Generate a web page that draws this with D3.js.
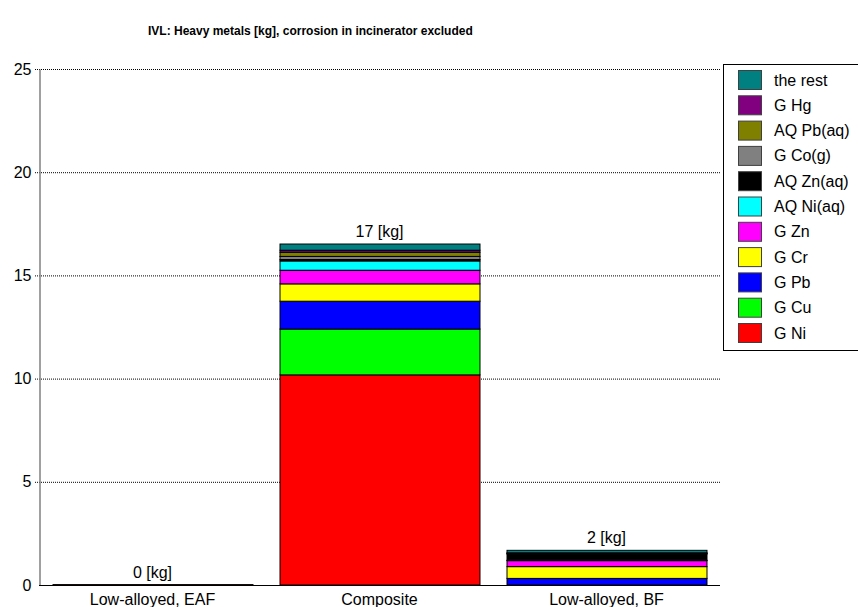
<!DOCTYPE html>
<html><head><meta charset="utf-8">
<script src="https://cdn.jsdelivr.net/npm/d3@7"></script>
<style>
html,body{margin:0;padding:0;background:#fff;}
svg{display:block;font-family:"Liberation Sans",Arial,sans-serif;}
</style></head>
<body>
<svg id="chart" width="858" height="607"></svg>
<script>
const title = "IVL: Heavy metals [kg], corrosion in incinerator excluded";
const categories = ["Low-alloyed, EAF", "Composite", "Low-alloyed, BF"];
const seriesNames = ["G Ni","G Cu","G Pb","G Cr","G Zn","AQ Ni(aq)","AQ Zn(aq)","G Co(g)","AQ Pb(aq)","G Hg","the rest"];
const seriesColors = ["#ff0000","#00ff00","#0000ff","#ffff00","#ff00ff","#00ffff","#000000","#808080","#808000","#800080","#008080"];
// values per series: [EAF, Composite, BF]
const gNi   = [0.02, 10.18, 0.00];
const gCu   = [0.00, 2.22, 0.00];
const gPb   = [0.00, 1.35, 0.32];
const gCr   = [0.00, 0.84, 0.57];
const gZn   = [0.00, 0.66, 0.29];
const aqNi  = [0.00, 0.45, 0.02];
const aqZn  = [0.00, 0.07, 0.30];
const gCo   = [0.00, 0.15, 0.02];
const aqPb  = [0.00, 0.20, 0.02];
const gHg   = [0.00, 0.10, 0.02];
const rest  = [0.00, 0.30, 0.12];
const seriesValues = [gNi,gCu,gPb,gCr,gZn,aqNi,aqZn,gCo,aqPb,gHg,rest];
const yTicks = [0,5,10,15,20,25];

const svg = d3.select("#chart");
const mLeft = 39, mRight = 720, mTop = 69, mBottom = 585;

const rows = categories.map((c,i)=>{
  const r = {cat:c};
  seriesNames.forEach((s,j)=>{ r[s] = seriesValues[j][i]; });
  return r;
});
const stack = d3.stack().keys(seriesNames)(rows);

const x = d3.scaleBand().domain(categories).range([mLeft,mRight]).paddingInner(0.119).paddingOuter(0.0595);
const y = d3.scaleLinear().domain([0,25]).range([mBottom,mTop]);

// title
svg.append("text").attr("x",148).attr("y",35).attr("text-anchor","start")
  .attr("font-weight","bold").attr("font-size",12).text(title);

// gridlines
svg.append("g").selectAll("line").data(yTicks.filter(t=>t>0)).join("line")
  .attr("x1",mLeft-4).attr("x2",mRight).attr("y1",d=>y(d)+0.5).attr("y2",d=>y(d)+0.5)
  .attr("stroke","#000").attr("stroke-width",1).attr("stroke-dasharray","1,1");

// y axis
const yAxis = svg.append("g").attr("transform",`translate(${mLeft+0.5},0)`)
  .call(d3.axisLeft(y).tickValues(yTicks).tickSize(0).tickPadding(8).tickFormat(d3.format("d")));
yAxis.select(".domain").attr("stroke","#808080").attr("stroke-width",1.5);
yAxis.selectAll("text").attr("font-size",16).attr("fill","#000").attr("font-family","Liberation Sans, Arial, sans-serif");

// x axis line
svg.append("line").attr("x1",mLeft).attr("x2",mRight).attr("y1",mBottom+0.5).attr("y2",mBottom+0.5)
  .attr("stroke","#000").attr("stroke-width",1);

// bars
svg.append("g").selectAll("g").data(stack).join("g")
  .attr("fill",(d,i)=>seriesColors[i])
  .selectAll("rect").data(d=>d).join("rect")
  .attr("x",d=>x(d.data.cat)+0.5)
  .attr("width",x.bandwidth())
  .attr("y",d=>y(d[1]))
  .attr("height",d=>Math.max(0,y(d[0])-y(d[1])))
  .attr("stroke","#000").attr("stroke-width",1)
  .filter(d=>d[1]-d[0]<=0).remove();

// x labels
svg.append("g").attr("transform",`translate(0,${mBottom})`)
  .call(d3.axisBottom(x).tickSize(0).tickPadding(9))
  .call(g=>g.select(".domain").remove())
  .selectAll("text").attr("font-size",16).attr("fill","#000").attr("font-family","Liberation Sans, Arial, sans-serif");

// totals
const totals = rows.map(r=>({cat:r.cat,total:d3.sum(seriesNames,s=>r[s])}));
svg.append("g").selectAll("text").data(totals).join("text")
  .attr("x",d=>x(d.cat)+x.bandwidth()/2).attr("y",d=>y(d.total)-7)
  .attr("text-anchor","middle").attr("font-size",16)
  .text(d=>`${Math.round(d.total)} [kg]`);

// legend
const lg = svg.append("g");
lg.append("rect").attr("x",723.5).attr("y",64.5).attr("width",140).attr("height",286)
  .attr("fill","#fff").attr("stroke","#000").attr("stroke-width",1);
const legendOrder = seriesNames.map((s,i)=>i).reverse();
const li = lg.selectAll("g.item").data(legendOrder).join("g").attr("class","item")
  .attr("transform",(d,k)=>`translate(738,${70+k*25.3})`);
li.append("rect").attr("x",0.5).attr("y",0.5).attr("width",23).attr("height",19)
  .attr("fill",d=>seriesColors[d]).attr("stroke","#404040").attr("stroke-width",1);
li.append("text").attr("x",36).attr("y",15.5).attr("font-size",16).text(d=>seriesNames[d]);
</script>
</body></html>
